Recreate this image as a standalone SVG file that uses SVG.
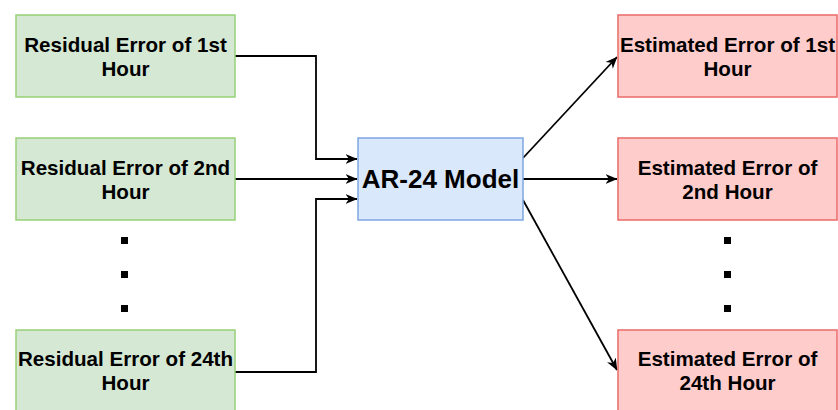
<svg xmlns="http://www.w3.org/2000/svg" width="838" height="410" viewBox="0 0 838 410">
<style>
.g{fill:#d5e8d4;stroke:#97d077;stroke-width:1.5}
.b{fill:#dae8fc;stroke:#7ea6e0;stroke-width:1.5}
.r{fill:#ffcccc;stroke:#ea6b66;stroke-width:1.5}
.t{font-family:"Liberation Sans",Arial,sans-serif;font-weight:bold;font-size:20.6px;fill:#000;text-anchor:middle}
.big{font-size:26px}
.c{fill:none;stroke:#000;stroke-width:1.8}
.d{fill:#000}
</style>
<defs>
<marker id="a" viewBox="0 0 12 12" refX="11.5" refY="6" markerWidth="12" markerHeight="12" markerUnits="userSpaceOnUse" orient="auto">
<path d="M0,1 L12,6 L0,11 L3.5,6 z" fill="#000"/>
</marker>
</defs>
<rect width="838" height="410" fill="#fff"/>
<g id="connectors">
<path class="c" d="M235,56 H316 V159 H357" marker-end="url(#a)"/>
<path class="c" d="M235,179 H357" marker-end="url(#a)"/>
<path class="c" d="M235,372 H316 V199 H357" marker-end="url(#a)"/>
<path class="c" d="M523,158 L617,57" marker-end="url(#a)"/>
<path class="c" d="M523,179 H617" marker-end="url(#a)"/>
<path class="c" d="M523,200 L617,370" marker-end="url(#a)"/>
</g>
<g id="res1"><rect class="g" x="16" y="15" width="219" height="82"/><text class="t" x="125.5" y="52">Residual Error of 1st</text><text class="t" x="125.5" y="76">Hour</text></g>
<g id="res2"><rect class="g" x="16" y="138" width="219" height="82"/><text class="t" x="125.5" y="175">Residual Error of 2nd</text><text class="t" x="125.5" y="199">Hour</text></g>
<g id="resdots"><rect class="d" x="121" y="237" width="7" height="7"/><rect class="d" x="121" y="271" width="7" height="7"/><rect class="d" x="121" y="305" width="7" height="7"/></g>
<g id="res24"><rect class="g" x="16" y="330" width="219" height="82"/><text class="t" x="125.5" y="366">Residual Error of 24th</text><text class="t" x="125.5" y="390">Hour</text></g>
<g id="model"><rect class="b" x="358" y="138" width="165" height="82"/><text class="t big" x="440.5" y="188">AR-24 Model</text></g>
<g id="est1"><rect class="r" x="618" y="15" width="219" height="82"/><text class="t" x="727.5" y="52">Estimated Error of 1st</text><text class="t" x="727.5" y="76">Hour</text></g>
<g id="est2"><rect class="r" x="618" y="138" width="219" height="82"/><text class="t" x="727.5" y="175">Estimated Error of</text><text class="t" x="727.5" y="199">2nd Hour</text></g>
<g id="estdots"><rect class="d" x="724" y="237" width="7" height="7"/><rect class="d" x="724" y="271" width="7" height="7"/><rect class="d" x="724" y="305" width="7" height="7"/></g>
<g id="est24"><rect class="r" x="618" y="330" width="219" height="82"/><text class="t" x="727.5" y="366">Estimated Error of</text><text class="t" x="727.5" y="390">24th Hour</text></g>
</svg>
